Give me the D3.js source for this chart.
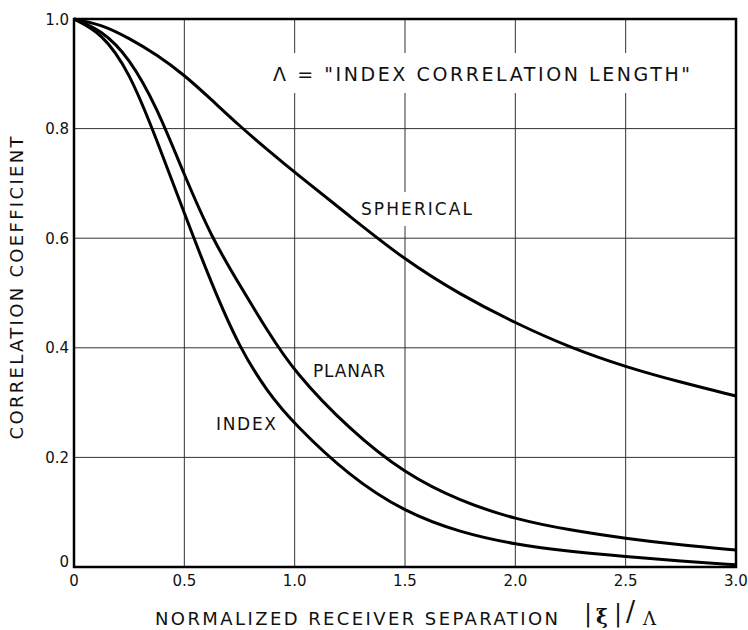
<!doctype html>
<meta charset="utf-8">
<style>
  body { margin: 0; background: #fff; }
  text { font-family: "DejaVu Sans", sans-serif; fill: #111; }
</style>
<body>
<script src="https://cdn.jsdelivr.net/npm/d3@7"></script>
<script>

// x grid shared by all three curves (normalized separation |xi|/Lambda)
let separation = [0, 0.125, 0.25, 0.375, 0.5, 0.625, 0.75, 0.875, 1.0, 1.25, 1.5, 1.75, 2.0, 2.25, 2.5, 2.75, 3.0];

// correlation coefficient
let spherical = [1, 0.99, 0.965, 0.935, 0.898, 0.852, 0.805, 0.762, 0.72, 0.64, 0.56, 0.497, 0.445, 0.40, 0.365, 0.337, 0.312];
let planar    = [1, 0.98, 0.93, 0.84, 0.715, 0.60, 0.515, 0.432, 0.355, 0.25, 0.17, 0.12, 0.087, 0.067, 0.052, 0.04, 0.031];
let index     = [1, 0.975, 0.905, 0.78, 0.645, 0.515, 0.40, 0.32, 0.26, 0.165, 0.10, 0.063, 0.041, 0.028, 0.019, 0.011, 0.004];

let xTicks = [0, 0.5, 1.0, 1.5, 2.0, 2.5, 3.0];
let xTickLabels = ["0", "0.5", "1.0", "1.5", "2.0", "2.5", "3.0"];
let yTicks = [0, 0.2, 0.4, 0.6, 0.8, 1.0];
let yTickLabels = ["0", "0.2", "0.4", "0.6", "0.8", "1.0"];

let width = 748,
    height = 630;

let x = d3.scaleLinear().domain([0, 3]).range([74, 736]);
let y = d3.scaleLinear().domain([0, 1]).range([567, 19]);

let svg = d3.select('body')
    .append('svg')
    .attr('width', width)
    .attr('height', height);

// grid
let grid = svg.append('g');
grid.selectAll('.vgrid')
    .data(xTicks.slice(1, -1))
  .enter().append('line')
    .attr('x1', d => x(d)).attr('x2', d => x(d))
    .attr('y1', y(0)).attr('y2', y(1))
    .attr('stroke', '#333').attr('stroke-width', 1);
grid.selectAll('.hgrid')
    .data(yTicks.slice(1, -1))
  .enter().append('line')
    .attr('x1', x(0)).attr('x2', x(3))
    .attr('y1', d => y(d)).attr('y2', d => y(d))
    .attr('stroke', '#333').attr('stroke-width', 1);

// white patches where the lettering interrupts the grid
svg.append('rect').attr('x', 265).attr('y', 53).attr('width', 440).attr('height', 40).attr('fill', '#fff');
svg.append('rect').attr('x', 356).attr('y', 192).attr('width', 122).attr('height', 34).attr('fill', '#fff');

// frame
svg.append('rect')
    .attr('x', x(0)).attr('y', y(1))
    .attr('width', x(3) - x(0)).attr('height', y(0) - y(1))
    .attr('fill', 'none').attr('stroke', '#000').attr('stroke-width', 2.5);

// curves
let line = d3.line()
    .x((d, i) => x(separation[i]))
    .y(d => y(d))
    .curve(d3.curveBasis);

[spherical, planar, index].forEach(function(s) {
  svg.append('path')
      .attr('d', line(s))
      .attr('fill', 'none')
      .attr('stroke', '#000')
      .attr('stroke-width', 3)
      .attr('stroke-linejoin', 'round');
});

// tick labels
svg.selectAll('.xlab')
    .data(xTicks)
  .enter().append('text')
    .attr('x', d => x(d))
    .attr('y', 586)
    .attr('text-anchor', 'middle')
    .attr('font-size', 15)
    .text((d, i) => xTickLabels[i]);

svg.selectAll('.ylab')
    .data(yTicks)
  .enter().append('text')
    .attr('x', 69)
    .attr('y', d => d === 0 ? y(d) : y(d) + 5.5)
    .attr('text-anchor', 'end')
    .attr('font-size', 15)
    .text((d, i) => yTickLabels[i]);

// curve labels
svg.append('text').attr('x', 361).attr('y', 215).attr('font-size', 17)
    .attr('textLength', 111).attr('lengthAdjust', 'spacing').text('SPHERICAL');
svg.append('text').attr('x', 313).attr('y', 377).attr('font-size', 17)
    .attr('textLength', 72).attr('lengthAdjust', 'spacing').text('PLANAR');
svg.append('text').attr('x', 216).attr('y', 430).attr('font-size', 17)
    .attr('textLength', 60).attr('lengthAdjust', 'spacing').text('INDEX');

// annotation
svg.append('text').attr('x', 273).attr('y', 81).attr('font-size', 19)
    .attr('textLength', 417).attr('lengthAdjust', 'spacing')
    .text('\u039B = "INDEX CORRELATION LENGTH"');

// axis titles
svg.append('text')
    .attr('transform', 'translate(23,288) rotate(-90)')
    .attr('text-anchor', 'middle')
    .attr('font-size', 18)
    .attr('textLength', 303).attr('lengthAdjust', 'spacing')
    .text('CORRELATION COEFFICIENT');

svg.append('text').attr('x', 155).attr('y', 625).attr('font-size', 18)
    .attr('textLength', 403).attr('lengthAdjust', 'spacing')
    .text('NORMALIZED RECEIVER SEPARATION');

let sym = svg.append('text')
    .style('font-family', '"DejaVu Serif", serif');
sym.append('tspan').attr('x', 584).attr('y', 621).attr('font-size', 24).text('|');
sym.append('tspan').attr('x', 596).attr('y', 624).attr('font-size', 20).attr('font-weight', 'bold').text('\u03BE');
sym.append('tspan').attr('x', 614).attr('y', 621).attr('font-size', 24).text('|');
sym.append('tspan').attr('x', 626).attr('y', 621).attr('font-size', 27).text('/');
sym.append('tspan').attr('x', 643).attr('y', 625).attr('font-size', 18).text('\u039B');

</script>
</body>
